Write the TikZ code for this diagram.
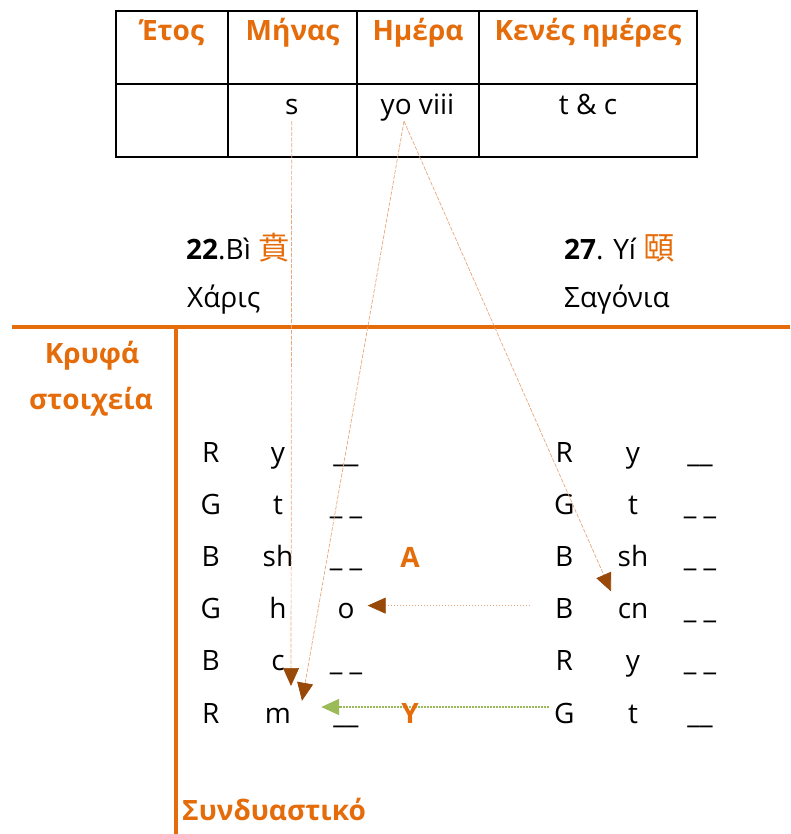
\documentclass[tikz,border=0pt]{standalone}
\usepackage{fontspec}
\setmainfont{Open Sans}
\newfontfamily\cjk[Scale=1.12]{Noto Sans CJK TC}
\usetikzlibrary{arrows.meta}
\definecolor{hanorange}{HTML}{E46C0A}
\definecolor{tipbrown}{HTML}{984807}
\definecolor{linktan}{HTML}{E6A77C}
\definecolor{linkgreen}{HTML}{9BBB59}
\tikzset{
	txt/.style={font=\fontsize{28}{34}\selectfont, inner sep=0pt, anchor=base, text height=20pt, text depth=6pt},
	hdr/.style={txt, font=\fontsize{28}{34}\selectfont\bfseries, text=hanorange},
	tanlink/.style={linktan, line width=0.7pt, dash pattern=on 4pt off 1.5pt, -{Triangle[length=18pt,width=16pt,color=tipbrown]}},
	greenlink/.style={linkgreen, line width=2pt, dash pattern=on 1.5pt off 1.5pt, -{Triangle[length=18pt,width=16pt,color=linkgreen]}}
}

\begin{document}
\begin{tikzpicture}[x=1pt,y=-1pt]
			\useasboundingbox (0,0) rectangle (790,834);
			\draw[black,line width=2.5pt] (116,11) rectangle (697,157);
			\draw[black,line width=2.5pt] (116,84) -- (697,84);
			\foreach \x in {228,357,479}
			{
				\draw[black,line width=2.5pt] (\x,11) -- (\x,157);
			}
			\node[hdr] (etos) at (172,41){Έτος};
			\node[hdr] (minas) at (292.5,41){Μήνας};
			\node[hdr] (imera) at (418,41){Ημέρα};
			\node[hdr] (kenes) at (588,41){Κενές ημέρες};
			\node[txt] (s) at (291.7,115){s};
			\node[txt] (yo) at (417.5,115){yo viii};
			\node[txt] (tc) at (588,115){t \& c};

			\node[txt, anchor=base west] (bi) at (186,259){{\bfseries 22}.Bì {\cjk\color{hanorange}賁}};
			\node[txt, anchor=base west] (xaris) at (187,307.5){Χάρις};
			\node[txt, anchor=base west] (yi) at (564,259){{\bfseries 27}. Yí {\cjk\color{hanorange}頤}};
			\node[txt, anchor=base west] (sagonia) at (564,307.5){Σαγόνια};

			\draw[hanorange, line width=4pt] (12,327.3) -- (790,327.3);
			\draw[hanorange, line width=4pt] (176,327.3) -- (176,834);
			\node[hdr] (krufa) at (92,363){Κρυφά};
			\node[hdr] (stoixeia) at (91,409){στοιχεία};
			\node[hdr, anchor=base west] (synd) at (182,820){Συνδυαστικό};

			\foreach \a/\b/\c [count=\i] in {R/y/\_\_, G/t/\_~\_, B/sh/\_~\_, G/h/o, B/c/\_~\_, R/m/\_\_}
			{
				\node[txt] (la\i) at (210.7,409.8 + \i * 52.2){\a};
				\node[txt] (lb\i) at (278,409.8 + \i * 52.2){\b};
				\node[txt] (lc\i) at (346,409.8 + \i * 52.2){\c};
			}
			\foreach \a/\b/\c [count=\i] in {R/y/\_\_, G/t/\_~\_, B/sh/\_~\_, B/cn/\_~\_, R/y/\_~\_, G/t/\_\_}
			{
				\node[txt] (ra\i) at (564.3,409.8 + \i * 52.2){\a};
				\node[txt] (rb\i) at (633,409.8 + \i * 52.2){\b};
				\node[txt] (rc\i) at (700,409.8 + \i * 52.2){\c};
			}
			\node[hdr] (alpha) at (410,567){A};

			\draw[tanlink] (s.south) -- ([xshift=13pt,yshift=-9pt]lb5.south);
			\draw[tanlink] ([xshift=-13.5pt]yo.south) -- ([xshift=24pt,yshift=2pt]lb6.north);
			\draw[tanlink] ([xshift=-13.5pt]yo.south) -- ([xshift=-22pt,yshift=7pt]rb4.north);
			\draw[tanlink, dash pattern=on 1.5pt off 1.5pt] ([xshift=-25pt,yshift=6pt]ra4.west) -- ([xshift=13pt,yshift=6pt]lc4.east);
			\draw[greenlink] ([xshift=-5pt,yshift=9pt]ra6.west) -- ([xshift=30pt,yshift=9pt]lb6.east);
			\node[hdr] (ypsilon) at (410,723){Y};
\end{tikzpicture}
\end{document}
